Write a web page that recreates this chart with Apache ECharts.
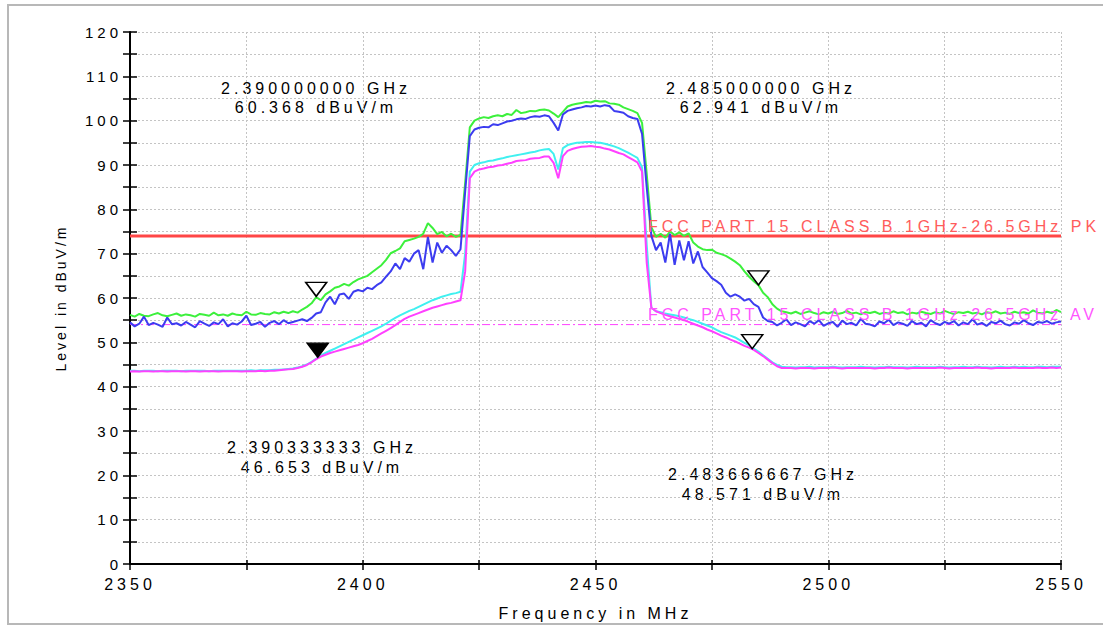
<!DOCTYPE html>
<html>
<head>
<meta charset="utf-8">
<script src="https://cdn.jsdelivr.net/npm/echarts@6.0.0/dist/echarts.min.js"></script>
<style>
    html, body { margin: 0; padding: 0; background: #fff; }
    #chart { width: 1103px; height: 626px; }
    /* the analyser font is wide-spaced */
    #chart svg text { letter-spacing: 4px; }
</style>
</head>
<body>
<div id="chart"></div>
<script>
    // sweep 2350 .. 2550 MHz, one reading per MHz
    var startFreq = 2350;

    var peakMax = [   // green
        56.2,55.8,56.4,56.0,55.9,56.3,56.6,56.1,55.9,56.2,56.5,56.0,56.3,56.1,55.8,56.4,56.2,56.0,56.7,56.1,
        56.3,56.0,56.5,56.2,56.1,56.9,56.3,56.2,56.6,56.4,56.3,56.8,56.5,56.9,56.6,57.0,56.7,57.4,
        58.0,58.8,60.2,59.5,60.8,61.5,62.3,62.6,63.2,62.8,63.6,64.2,64.6,65.0,65.8,66.6,67.4,68.6,70.1,70.6,
        71.2,72.8,73.1,73.4,73.8,74.5,76.9,75.8,74.4,74.9,73.9,74.5,73.8,74.2,
        86.0,98.5,100.0,100.5,100.8,100.6,101.0,101.2,101.0,101.5,101.3,102.4,101.7,101.9,102.2,102.1,102.4,
        102.5,102.3,101.6,100.8,102.0,103.2,103.6,103.8,104.0,104.2,104.1,104.5,104.3,104.4,103.9,103.8,103.6,
        103.0,102.6,102.2,101.7,99.5,88.0,76.0,
        73.8,74.5,73.6,75.0,74.2,74.8,74.0,74.6,72.5,71.6,71.0,70.8,70.9,70.2,69.9,69.5,68.9,68.2,67.4,66.0,
        64.8,63.8,62.9,61.2,60.2,58.6,57.6,57.0,
        56.8,56.5,56.9,56.4,56.7,57.0,56.6,56.3,56.8,56.5,56.9,56.4,56.6,57.1,56.5,56.7,56.3,56.8,56.6,56.9,
        56.4,56.7,56.5,57.0,56.6,56.8,56.3,56.7,56.5,56.9,56.6,56.4,56.8,56.5,57.1,56.7,56.4,56.8,56.6,56.9,
        56.5,56.7,56.3,56.8,56.6,57.0,56.5,56.7,56.4,56.9,56.6,56.8,56.5,57.2,56.7,56.5,56.9,56.6,57.3,56.8
    ];

    var peak = [   // blue
        54.5,53.6,54.2,55.8,53.9,54.4,54.0,53.5,55.6,54.1,54.3,53.8,54.6,54.0,53.4,54.8,54.2,53.7,54.5,54.1,
        55.2,53.6,54.3,54.0,54.7,56.0,53.9,54.2,54.6,53.5,54.4,54.8,54.1,55.0,54.3,54.6,54.9,55.2,54.8,
        55.5,56.5,56.8,59.0,60.3,58.6,60.8,61.0,59.8,61.4,61.8,61.5,62.3,62.0,62.9,63.5,64.8,66.0,67.8,66.5,
        69.0,68.2,70.0,70.8,66.5,73.8,68.0,72.5,70.2,71.8,70.8,69.5,71.0,
        84.0,96.5,98.0,98.4,98.6,98.5,99.2,99.0,99.4,99.8,100.0,100.3,100.5,100.4,100.8,101.0,100.9,101.2,
        101.0,99.5,97.8,101.4,102.2,102.5,102.8,103.0,103.3,103.2,103.4,103.2,103.5,103.3,102.2,102.0,101.8,
        101.0,100.6,100.4,97.0,85.0,74.0,
        70.8,72.5,68.0,74.5,67.5,73.0,68.5,72.8,67.8,70.5,67.0,65.8,64.5,63.8,63.0,61.2,60.3,60.8,60.3,59.4,
        59.8,58.6,58.0,55.6,54.8,
        54.6,53.8,54.4,55.2,53.9,54.5,54.1,53.6,54.8,54.2,55.0,53.7,54.3,54.6,53.5,54.9,54.1,54.4,53.8,55.3,
        54.2,54.0,53.6,54.7,54.3,55.1,53.9,54.5,54.2,53.7,54.8,54.1,54.4,53.6,55.0,54.3,53.9,54.6,54.2,54.8,
        53.8,54.5,54.1,55.2,54.0,54.4,53.7,54.6,54.3,54.9,54.1,53.8,54.5,54.2,55.0,54.3,53.9,54.6,54.4,54.8,
        54.2,54.5,54.7
    ];

    var avgMax = [   // cyan
        43.6,43.6,43.5,43.6,43.6,43.6,43.5,43.6,43.6,43.6,43.6,43.5,43.6,43.6,43.6,43.6,43.6,43.5,43.6,43.6,
        43.6,43.6,43.6,43.6,43.6,43.6,43.7,43.6,43.7,43.7,43.7,43.8,43.8,43.9,44.0,44.1,
        44.3,44.6,45.0,45.6,46.3,47.0,47.6,48.1,48.6,49.1,49.6,50.1,50.6,51.1,51.6,52.1,52.6,53.1,53.6,54.2,
        54.9,55.5,56.1,56.6,57.1,57.5,58.0,58.5,59.0,59.5,59.9,60.3,60.6,60.9,61.1,61.4,
        70.0,88.5,90.0,90.4,90.6,90.9,91.0,91.3,91.5,91.8,92.0,92.2,92.4,92.6,92.8,93.0,93.3,93.5,93.6,92.5,
        89.0,93.8,94.5,94.8,95.0,95.1,95.2,95.2,95.1,95.0,94.8,94.5,94.2,93.8,93.3,92.8,92.2,91.6,89.5,72.0,
        57.8,
        57.0,56.8,56.5,56.3,56.1,55.9,55.6,55.3,55.0,54.6,54.2,53.8,53.4,52.8,52.3,51.9,51.5,51.1,50.5,49.9,
        49.3,48.6,47.9,47.1,46.3,45.5,44.9,44.5,
        44.4,44.4,44.3,44.4,44.4,44.5,44.3,44.4,44.4,44.4,44.5,44.4,44.3,44.4,44.4,44.4,44.5,44.4,44.4,44.3,
        44.4,44.4,44.5,44.4,44.4,44.4,44.3,44.4,44.5,44.4,44.4,44.4,44.4,44.5,44.4,44.3,44.4,44.4,44.5,44.4,
        44.4,44.5,44.4,44.4,44.3,44.4,44.5,44.4,44.4,44.5,44.4,44.5,44.4,44.4,44.5,44.5,44.4,44.5,44.5,44.5
    ];

    var avg = [   // magenta
        43.4,43.5,43.4,43.5,43.5,43.4,43.5,43.5,43.4,43.5,43.5,43.5,43.4,43.5,43.5,43.4,43.5,43.5,43.5,43.4,
        43.5,43.5,43.5,43.5,43.4,43.5,43.5,43.5,43.6,43.5,43.6,43.6,43.7,43.8,43.9,44.0,
        44.2,44.5,44.9,45.5,46.2,46.8,47.2,47.6,47.9,48.2,48.5,48.8,49.1,49.4,49.8,50.3,50.8,51.4,52.0,52.6,
        53.2,53.9,54.6,55.3,55.8,56.2,56.6,57.0,57.4,57.8,58.1,58.4,58.7,58.9,59.2,59.5,
        66.0,87.0,88.5,89.0,89.2,89.5,89.6,89.9,90.0,90.3,90.5,90.9,91.0,91.1,91.4,91.5,91.6,91.9,91.9,90.5,
        87.0,92.0,93.2,93.6,93.9,94.1,94.2,94.3,94.1,94.0,93.7,93.5,93.1,92.7,92.4,91.8,91.2,90.6,88.5,68.0,
        57.8,
        57.0,56.6,56.2,55.9,55.6,55.3,55.0,54.6,54.2,53.8,53.4,52.9,52.5,52.0,51.5,51.1,50.6,50.2,49.7,49.2,
        48.8,48.3,47.6,46.9,46.1,45.3,44.6,44.2,
        44.2,44.2,44.1,44.2,44.2,44.2,44.1,44.2,44.2,44.2,44.3,44.2,44.1,44.2,44.2,44.2,44.2,44.2,44.2,44.1,
        44.2,44.2,44.3,44.2,44.2,44.2,44.1,44.2,44.2,44.2,44.2,44.2,44.2,44.3,44.2,44.1,44.2,44.2,44.2,44.2,
        44.2,44.3,44.2,44.2,44.1,44.2,44.2,44.2,44.2,44.3,44.2,44.2,44.2,44.2,44.3,44.2,44.2,44.3,44.2,44.3
    ];

    var pkLimit = 74;
    var avLimit = 54;
    var pkLimitName = 'FCC PART 15 CLASS B 1GHz-26.5GHz PK';
    var avLimitName = 'FCC PART 15 CLASS B 1GHz-26.5GHz AV';

    // markers: frequency (MHz), level (dBuV/m)
    var markerFreq = [2390.0, 2485.0, 2390.333333, 2483.666667];
    var markerLevel = [60.368, 62.941, 46.653, 48.571];

    var xTicks = [2350, 2400, 2450, 2500, 2550];
    var yTicks = [0, 10, 20, 30, 40, 50, 60, 70, 80, 90, 100, 110, 120];

    var font = 'Liberation Sans, Arial, sans-serif';

    function toPairs(arr) {
        var out = [];
        for (var i = 0; i < arr.length; i++) {
            out.push([startFreq + i, arr[i]]);
        }
        return out;
    }

    function markerText(i) {
        return (markerFreq[i] / 1000).toFixed(9) + ' GHz\n' + markerLevel[i].toFixed(3) + ' dBuV/m';
    }

    var openTri = 'path://M0,0L22,0L11,14Z';

    var chart = echarts.init(document.getElementById('chart'), null, {renderer: 'svg'});

    var option = {
        animation: false,
        backgroundColor: '#fff',
        grid: {left: 130, right: 42, top: 32, bottom: 62, outerBoundsMode: 'none'},
        xAxis: [{
            type: 'value', min: 2350, max: 2550, interval: 25,
            name: 'Frequency in MHz', nameLocation: 'middle', nameGap: 41,
            nameTextStyle: {color: '#000', fontSize: 16, fontFamily: font},
            axisLine: {lineStyle: {color: '#000', width: 2}},
            axisTick: {length: 6, lineStyle: {color: '#000', width: 1.5}},
            axisLabel: {
                color: '#000', fontSize: 16, fontFamily: font, margin: 12,
                formatter: function (v) { return xTicks.indexOf(v) >= 0 ? String(v) : ''; }
            },
            splitLine: {show: true, lineStyle: {color: '#c4c4c4', type: [2, 2], width: 1}}
        }, {
            type: 'value', min: 2350, max: 2550, interval: 25, position: 'bottom',
            axisLine: {show: false},
            axisTick: {inside: true, length: 4, lineStyle: {color: '#000', width: 1.5}},
            axisLabel: {show: false}, splitLine: {show: false}
        }],
        yAxis: [{
            type: 'value', min: 0, max: 120, interval: 5, position: 'left',
            name: 'Level in dBuV/m', nameLocation: 'middle', nameGap: 62, nameRotate: 90,
            nameTextStyle: {color: '#000', fontSize: 14, fontFamily: font},
            axisLine: {show: true, lineStyle: {color: '#000', width: 2}},
            axisTick: {show: true, length: 7, lineStyle: {color: '#000', width: 1.5}},
            axisLabel: {
                color: '#000', fontSize: 15, fontFamily: font, margin: 8,
                formatter: function (v) { return yTicks.indexOf(v) >= 0 ? String(v) : ''; }
            },
            splitLine: {show: true, lineStyle: {color: '#c4c4c4', type: [2, 2], width: 1}}
        }, {
            type: 'value', min: 0, max: 120, interval: 5, position: 'left',
            axisLine: {show: false},
            axisTick: {show: true, inside: true, length: 7, lineStyle: {color: '#000', width: 1.5}},
            axisLabel: {show: false}, splitLine: {show: false}
        }],
        series: [{
            name: 'PK limit', type: 'line', symbol: 'none', silent: true,
            data: [[2350, pkLimit], [2550, pkLimit]],
            lineStyle: {color: '#ff4646', width: 3}, z: 1
        }, {
            name: 'AV limit', type: 'line', symbol: 'none', silent: true,
            data: [[2350, avLimit], [2550, avLimit]],
            lineStyle: {color: '#ff40ff', width: 1, type: [8, 3, 2, 3]}, z: 1
        }, {
            name: 'Peak max', type: 'line', symbol: 'none', data: toPairs(peakMax),
            lineStyle: {color: '#3cf03c', width: 2}, z: 2,
            markPoint: {
                symbol: openTri, symbolSize: [21, 14], symbolOffset: [0, '-50%'],
                itemStyle: {color: '#fff', borderColor: '#000', borderWidth: 1.5},
                label: {show: false},
                data: [{coord: [markerFreq[0], markerLevel[0]]}, {coord: [markerFreq[1], markerLevel[1]]}]
            }
        }, {
            name: 'Peak', type: 'line', symbol: 'none', data: toPairs(peak),
            lineStyle: {color: '#3c3cf0', width: 2}, z: 3
        }, {
            name: 'Average max', type: 'line', symbol: 'none', data: toPairs(avgMax),
            lineStyle: {color: '#40f0f0', width: 2}, z: 2,
            markPoint: {
                symbol: openTri, symbolSize: [21, 14], symbolOffset: [0, '-50%'],
                label: {show: false},
                data: [
                    {coord: [markerFreq[2], markerLevel[2]], itemStyle: {color: '#000', borderColor: '#000', borderWidth: 1.5}},
                    {coord: [markerFreq[3], markerLevel[3]], itemStyle: {color: '#fff', borderColor: '#000', borderWidth: 1.5}}
                ]
            }
        }, {
            name: 'Average', type: 'line', symbol: 'none', data: toPairs(avg),
            lineStyle: {color: '#ff40ff', width: 2}, z: 3
        }],
        graphic: [
            // outer frame
            {type: 'polyline', shape: {points: [[1103, 5], [8, 5], [8, 624], [1103, 624]]},
                style: {stroke: '#b8b8b8', lineWidth: 2, fill: null}, z: 100},
            {type: 'text', x: 316, y: 98, style: {text: markerText(0), font: '16px ' + font, fill: '#000',
                textAlign: 'center', textVerticalAlign: 'middle', lineHeight: 19}},
            {type: 'text', x: 761, y: 98, style: {text: markerText(1), font: '16px ' + font, fill: '#000',
                textAlign: 'center', textVerticalAlign: 'middle', lineHeight: 19}},
            {type: 'text', x: 322, y: 457, style: {text: markerText(2), font: '16px ' + font, fill: '#000',
                textAlign: 'center', textVerticalAlign: 'middle', lineHeight: 20}},
            {type: 'text', x: 763, y: 484, style: {text: markerText(3), font: '16px ' + font, fill: '#000',
                textAlign: 'center', textVerticalAlign: 'middle', lineHeight: 20}},
            {type: 'text', x: 648, y: 234, style: {text: pkLimitName, font: '16px ' + font, fill: '#ff5c5c',
                textAlign: 'left', textVerticalAlign: 'bottom'}, z: 5},
            {type: 'text', x: 648, y: 322, style: {text: avLimitName, font: '16px ' + font, fill: '#ff55ff',
                textAlign: 'left', textVerticalAlign: 'bottom'}, z: 5}
        ]
    };

    chart.setOption(option);

    // the level title is set tighter than the rest
    var texts = document.querySelectorAll('#chart svg text');
    for (var i = 0; i < texts.length; i++) {
        if (texts[i].textContent === 'Level in dBuV/m') {
            texts[i].style.letterSpacing = '3px';
        }
    }
</script>
</body>
</html>
